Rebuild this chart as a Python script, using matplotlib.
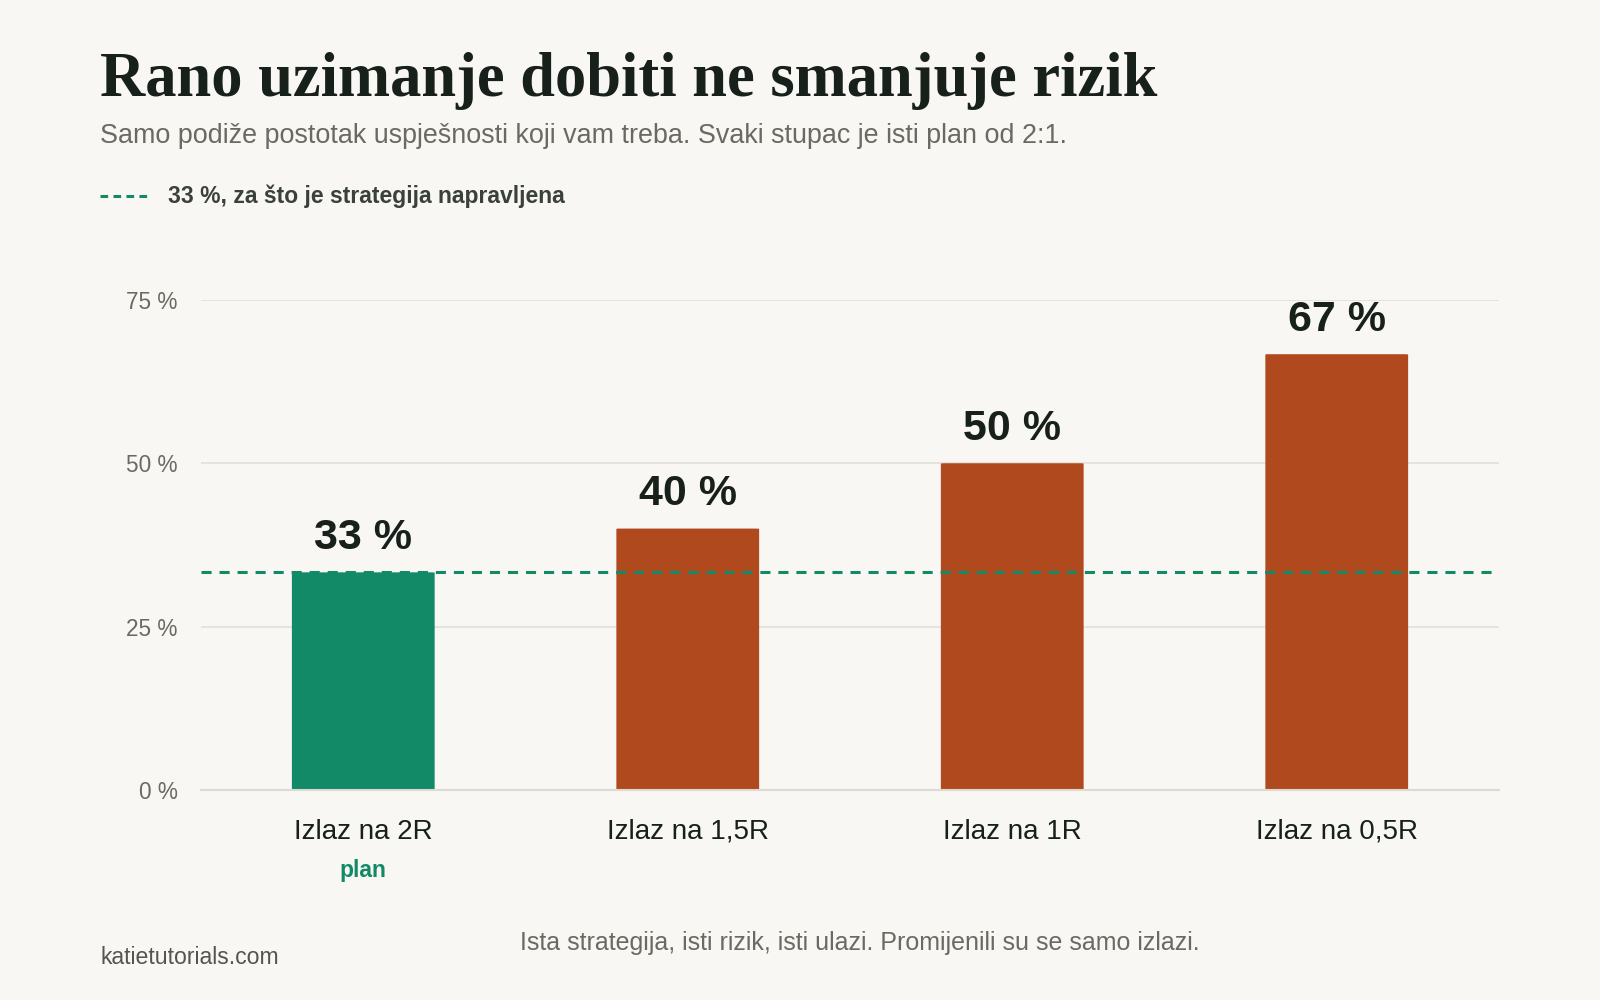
import matplotlib
matplotlib.use("Agg")
import matplotlib.pyplot as plt
from matplotlib.patches import FancyBboxPatch
from matplotlib.lines import Line2D

categories = ["Izlaz na 2R", "Izlaz na 1,5R", "Izlaz na 1R", "Izlaz na 0,5R"]
values = [33.3, 40, 50, 66.7]
value_labels = ["33 %", "40 %", "50 %", "67 %"]
yticks = [0, 25, 50, 75]
ytick_labels = ["0 %", "25 %", "50 %", "75 %"]
reference_value = 33.3

BG = "#f8f7f3"
GREEN = "#128a68"
ORANGE = "#b1491e"
DARK = "#17201b"
GRAY = "#6b6a62"

W, H = 1568, 980
fig = plt.figure(figsize=(16, 10), dpi=100, facecolor=BG)

def fx(px):
    return px / W

def fy(py):
    return 1 - py / H

ax = fig.add_axes([fx(197), fy(774), fx(1469) - fx(197), fy(294) - fy(774)])
ax.set_facecolor(BG)
ax.set_xlim(-0.5, 3.5)
ax.set_ylim(0, 75)

colors = [GREEN] + [ORANGE] * (len(values) - 1)
bw = 0.44
for i, (v, c) in enumerate(zip(values, colors)):
    p = FancyBboxPatch((i - bw / 2, 0), bw, v,
                       boxstyle="round,pad=0,rounding_size=0.01",
                       mutation_aspect=75 / 4 * 0.3,
                       facecolor=c, edgecolor="none", zorder=2)
    ax.add_patch(p)
    ax.text(i, v + 2.2, value_labels[i], ha="center", va="bottom",
            fontsize=31, fontweight="bold", color=DARK,
            family="Liberation Sans", zorder=4)

ax.axhline(reference_value, color=GREEN, lw=2.2, ls=(0, (3.3, 2.6)), zorder=3)

ax.set_yticks(yticks)
ax.set_yticklabels(ytick_labels, fontsize=16.3, color=GRAY, family="Liberation Sans")
ax.yaxis.grid(True, color="#e3e1db", lw=1.3, zorder=0)
ax.set_axisbelow(True)
ax.tick_params(axis="y", length=0, pad=17)
ax.set_xticks(range(len(categories)))
ax.set_xticklabels(categories, fontsize=20, color=DARK, family="Liberation Sans")
ax.tick_params(axis="x", length=0, pad=21)
for s in ["top", "right", "left"]:
    ax.spines[s].set_visible(False)
ax.spines["bottom"].set_color("#dcdad3")
ax.spines["bottom"].set_linewidth(1.5)

# "plan" label under first category
ax.text(0, -12.4, "plan", ha="center", va="center", fontsize=16.5,
        fontweight="bold", color=GREEN, family="Liberation Sans",
        transform=ax.transData)

# Title and subtitle
fig.text(fx(98), fy(79), "Rano uzimanje dobiti ne smanjuje rizik",
         fontsize=45, fontweight="bold", color=DARK, family="Liberation Serif",
         va="center", ha="left")
fig.text(fx(98), fy(133), "Samo podiže postotak uspješnosti koji vam treba. Svaki stupac je isti plan od 2:1.",
         fontsize=19.4, color=GRAY, family="Liberation Sans", va="center", ha="left")

# Legend
fig.add_artist(Line2D([fx(98), fx(148)], [fy(192), fy(192)], color=GREEN, lw=2.2,
                      ls=(0, (2.5, 1.75)), transform=fig.transFigure))
fig.text(fx(165), fy(192), "33 %, za što je strategija napravljena",
         fontsize=16.5, fontweight="bold", color="#3a403b", family="Liberation Sans",
         va="center", ha="left")

# Footer
fig.text(fx(98), fy(938), "katietutorials.com", fontsize=16.6, color="#55554f",
         family="Liberation Sans", va="center", ha="left")
fig.text(fx(843), fy(924), "Ista strategija, isti rizik, isti ulazi. Promijenili su se samo izlazi.",
         fontsize=18.0, color=GRAY, family="Liberation Sans", va="center", ha="center")

fig.savefig("out.png", dpi=100, facecolor=BG)
